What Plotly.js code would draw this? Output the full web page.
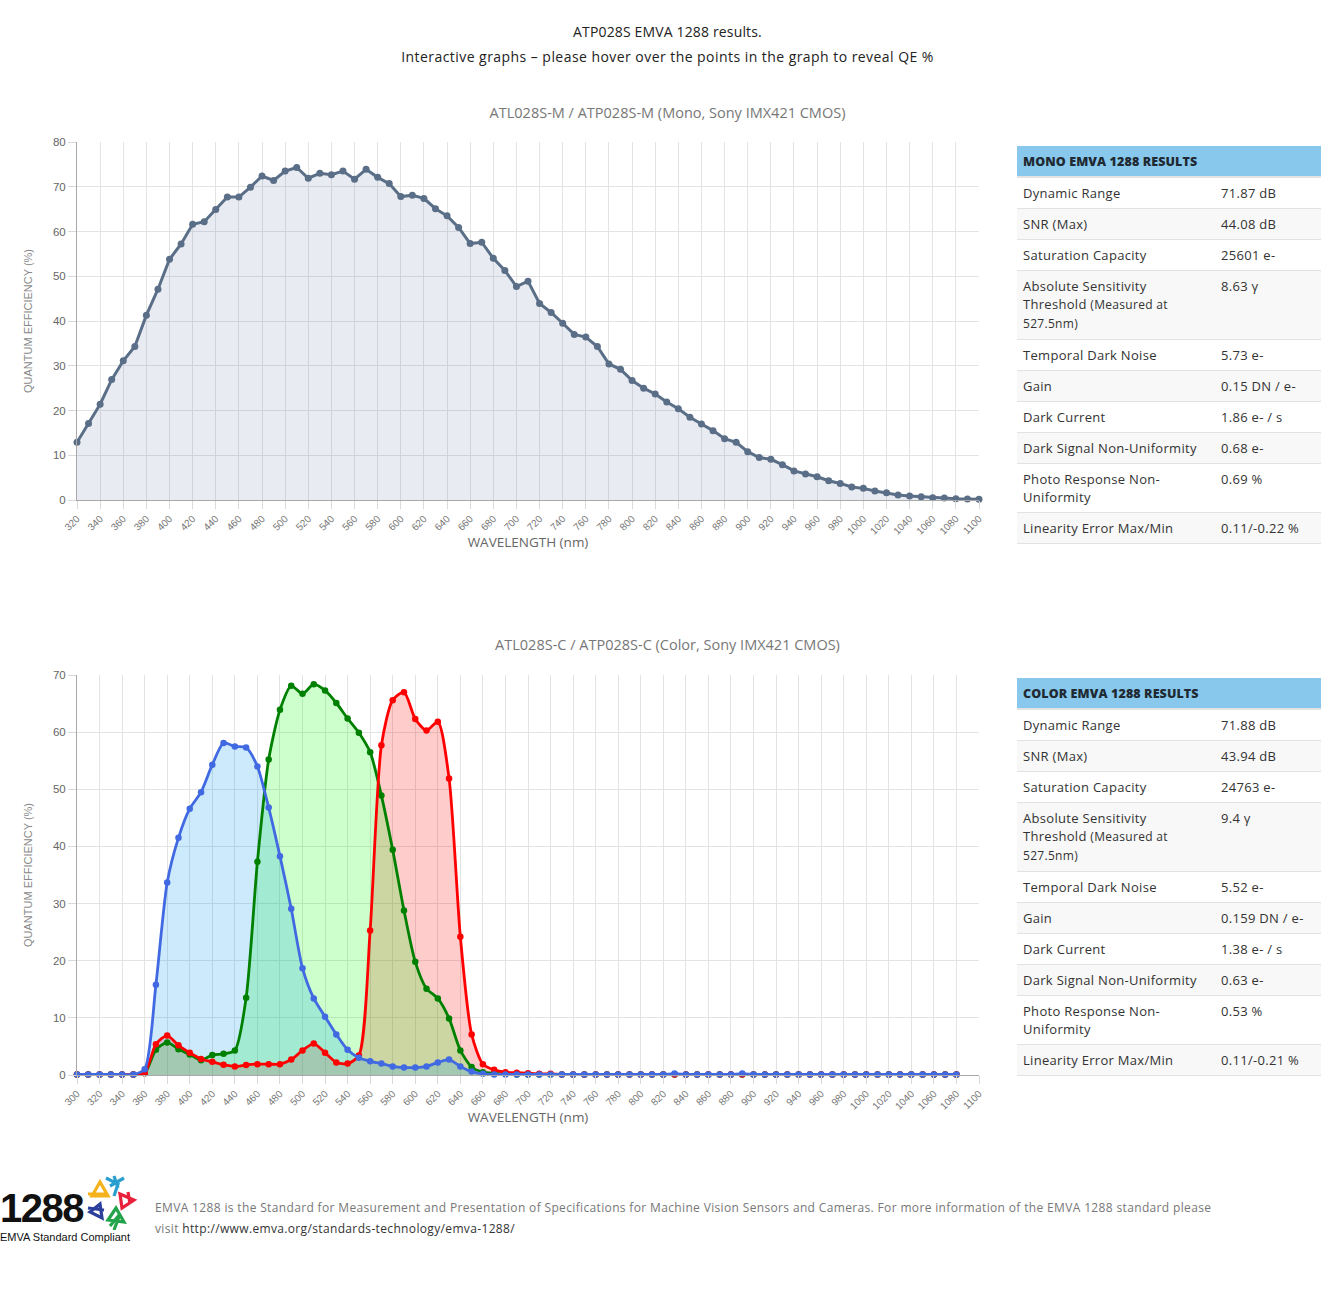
<!DOCTYPE html>
<html>
<head>
<meta charset="utf-8">
<script src="https://cdn.plot.ly/plotly-3.0.1.min.js"></script>
<style>
  html, body { margin:0; padding:0; background:#fff; }
  body { width:1335px; height:1299px; position:relative; overflow:hidden; font-family:"Open Sans", "Noto Sans", sans-serif; }
  .hdr { position:absolute; left:0; width:1335px; text-align:center; color:#222; font-size:14px; }
  .plot { position:absolute; left:0; width:1335px; }
  table.res { position:absolute; left:1017px; width:304px; border-collapse:collapse; table-layout:fixed; font-size:13px; letter-spacing:0.3px; color:#333; z-index:5; background:#fff; }
  table.res th { background:#87c8ec; text-align:left; font-weight:800; color:#1f2a33; padding:0 6px; height:30px; border-bottom:2px solid #e3e3e3; font-size:12.5px; letter-spacing:0.1px; }
  table.res td { padding:6px 6px 6px 6px; line-height:18px; vertical-align:top; border-bottom:1px solid #e2e2e2; white-space:nowrap; }
  table.res tr:nth-child(odd) td { background:#f8f8f8; }
  table.res col.l { width:198px; }
  table.res col.v { width:106px; }
  .small { font-size:12px; }
  .foot { position:absolute; left:155px; font-size:12px; letter-spacing:0.35px; color:#777; white-space:nowrap; }
  .foot a { color:#333; text-decoration:none; }
</style>
</head>
<body>
<div class="hdr" style="top:22px; letter-spacing:0.15px;">ATP028S EMVA 1288 results.</div>
<div class="hdr" style="top:47px; letter-spacing:0.45px;">Interactive graphs – please hover over the points in the graph to reveal QE %</div>

<div id="monoPlot" class="plot" style="top:90px; height:480px;"></div>
<div id="colorPlot" class="plot" style="top:620px; height:520px;"></div>

<table class="res" id="monoTable" style="top:146px;"></table>
<table class="res" id="colorTable" style="top:678px;"></table>

<div style="position:absolute; left:0; top:1188px; font-family:'Liberation Sans', Arial, sans-serif; font-weight:bold; font-size:40px; color:#111; letter-spacing:-1.5px; line-height:40px;">1288</div>
<div style="position:absolute; left:0; top:1231px; font-family:'Liberation Sans', Arial, sans-serif; font-size:11px; color:#111;">EMVA Standard Compliant</div>
<svg style="position:absolute; left:84px; top:1174px;" width="54" height="56" viewBox="0 0 54 56">
  <path d="M8 22 L16 8 L24 22 Z M4 20 L22 20" stroke="#f4b21c" stroke-width="3.2" fill="none"/>
  <path d="M22 4 L34 10 L30 22 M26 12 L40 4 M30 2 L34 14" stroke="#2a9fcf" stroke-width="3.2" fill="none"/>
  <path d="M36 20 L50 26 L38 34 Z M44 18 L46 30" stroke="#e8203a" stroke-width="3.2" fill="none"/>
  <path d="M6 38 L16 30 L18 44 Z M4 34 L20 36" stroke="#2c3f9c" stroke-width="3.2" fill="none"/>
  <path d="M24 46 L32 34 L40 48 Z M26 52 L36 40 L30 56" stroke="#23a34a" stroke-width="3.2" fill="none"/>
</svg>
<div class="foot" style="top:1199px;">EMVA 1288 is the Standard for Measurement and Presentation of Specifications for Machine Vision Sensors and Cameras. For more information of the EMVA 1288 standard please</div>
<div class="foot" style="top:1220px;">visit <a>http://www.emva.org/standards-technology/emva-1288/</a></div>

<script>
// ---------- Data ----------
const monoWavelength = [320,330,340,350,360,370,380,390,400,410,420,430,440,450,460,470,480,490,500,510,520,530,540,550,560,570,580,590,600,610,620,630,640,650,660,670,680,690,700,710,720,730,740,750,760,770,780,790,800,810,820,830,840,850,860,870,880,890,900,910,920,930,940,950,960,970,980,990,1000,1010,1020,1030,1040,1050,1060,1070,1080,1090,1100];
const monoQE = [12.9,17.1,21.4,26.9,31.1,34.3,41.3,47.1,53.8,57.2,61.6,62.2,64.9,67.7,67.7,69.9,72.4,71.4,73.5,74.3,71.9,73.0,72.7,73.5,71.7,73.9,72.1,70.7,67.8,68.1,67.4,65.1,63.5,60.9,57.3,57.6,54.0,51.3,47.7,48.9,43.9,41.9,39.5,37.0,36.4,34.3,30.4,29.2,26.7,25.0,23.7,21.9,20.4,18.5,17.0,15.5,13.7,12.9,10.8,9.5,9.1,7.9,6.5,5.8,5.2,4.3,3.7,2.9,2.6,2.0,1.6,1.1,0.9,0.7,0.5,0.45,0.3,0.2,0.15];

const colorWavelength = [300,310,320,330,340,350,360,370,380,390,400,410,420,430,440,450,460,470,480,490,500,510,520,530,540,550,560,570,580,590,600,610,620,630,640,650,660,670,680,690,700,710,720,730,740,750,760,770,780,790,800,810,820,830,840,850,860,870,880,890,900,910,920,930,940,950,960,970,980,990,1000,1010,1020,1030,1040,1050,1060,1070,1080];
const redQE = [0.1,0.1,0.1,0.1,0.1,0.1,0.3,5.4,6.9,5.2,3.9,2.8,2.3,1.8,1.5,1.75,1.9,1.9,1.9,2.7,4.3,5.5,3.9,2.2,2.0,3.4,25.3,57.7,65.6,67.0,62.3,60.3,61.8,51.9,24.2,7.1,1.9,0.9,0.5,0.4,0.3,0.2,0.2,0.1,0.1,0.1,0.1,0.1,0.1,0.1,0.1,0.1,0.1,0.1,0.1,0.1,0.1,0.1,0.1,0.1,0.1,0.1,0.1,0.1,0.1,0.1,0.1,0.1,0.1,0.1,0.1,0.1,0.1,0.1,0.1,0.1,0.1,0.1,0.1];
const greenQE = [0.1,0.1,0.1,0.1,0.1,0.1,0.3,4.4,5.7,4.5,3.6,2.6,3.5,3.7,4.3,13.5,37.3,55.2,63.9,68.1,66.7,68.4,67.3,65.1,62.4,59.9,56.5,48.9,39.4,28.8,19.8,15.1,13.4,9.9,4.3,1.4,0.5,0.3,0.2,0.1,0.1,0.1,0.1,0.1,0.1,0.1,0.1,0.1,0.1,0.1,0.1,0.1,0.1,0.1,0.1,0.1,0.1,0.1,0.1,0.1,0.1,0.1,0.1,0.1,0.1,0.1,0.1,0.1,0.1,0.1,0.1,0.1,0.1,0.1,0.1,0.1,0.1,0.1,0.1];
const blueQE = [0.1,0.1,0.1,0.1,0.1,0.1,1.0,15.8,33.7,41.5,46.6,49.5,54.3,58.1,57.5,57.3,54.0,46.8,38.3,29.1,18.7,13.4,10.2,7.1,4.4,3.0,2.4,2.0,1.5,1.3,1.3,1.5,2.2,2.7,1.5,0.6,0.2,0.1,0.1,0.1,0.1,0.1,0.1,0.1,0.1,0.1,0.1,0.1,0.1,0.1,0.1,0.1,0.1,0.25,0.1,0.1,0.1,0.1,0.1,0.25,0.1,0.1,0.1,0.1,0.1,0.1,0.1,0.1,0.1,0.1,0.1,0.1,0.1,0.1,0.1,0.1,0.1,0.1,0.1];

const monoTitle = "ATL028S-M / ATP028S-M (Mono, Sony IMX421 CMOS)";
const colorTitle = "ATL028S-C / ATP028S-C (Color, Sony IMX421 CMOS)";

const resultLabels = ["Dynamic Range","SNR (Max)","Saturation Capacity","Absolute Sensitivity<br>Threshold <span class='small'>(Measured at</span><br><span class='small'>527.5nm)</span>","Temporal Dark Noise","Gain","Dark Current","Dark Signal Non-Uniformity","Photo Response Non-<br>Uniformity","Linearity Error Max/Min"];
const monoResults = ["71.87 dB","44.08 dB","25601 e-","8.63 γ","5.73 e-","0.15 DN / e-","1.86 e- / s","0.68 e-","0.69 %","0.11/-0.22 %"];
const colorResults = ["71.88 dB","43.94 dB","24763 e-","9.4 γ","5.52 e-","0.159 DN / e-","1.38 e- / s","0.63 e-","0.53 %","0.11/-0.21 %"];

// ---------- Tables ----------
function buildTable(id, head, values) {
  let h = "<colgroup><col class='l'><col class='v'></colgroup><tr><th colspan='2'>" + head + "</th></tr>";
  for (let i = 0; i < resultLabels.length; i++) {
    h += "<tr><td>" + resultLabels[i] + "</td><td>" + values[i] + "</td></tr>";
  }
  document.getElementById(id).innerHTML = h;
}
buildTable("monoTable", "MONO EMVA 1288 RESULTS", monoResults);
buildTable("colorTable", "COLOR EMVA 1288 RESULTS", colorResults);

// ---------- Plots ----------
const tickFont = {family:"Liberation Sans, Arial, sans-serif", size:10, color:"#777"};
const yTickFont = {family:"Liberation Sans, Arial, sans-serif", size:11.5, color:"#666"};

function axes(xmin, xmax, ymax) {
  return {
    xaxis: {
      range:[xmin, xmax], tick0:xmin, dtick:20, tickangle:-45, tickfont:tickFont,
      ticks:"outside", ticklen:8, tickcolor:"#d9d9d9", showgrid:true, gridcolor:"#e3e3e3", gridwidth:1,
      showline:true, linecolor:"#a8a8a8", linewidth:1, zeroline:false, mirror:false,
      title:{text:"WAVELENGTH (nm)", font:{family:"Open Sans, sans-serif", size:13.5, color:"#666"}, standoff:0}
    },
    yaxis: {
      range:[0, ymax], dtick:10, tickfont:yTickFont,
      ticks:"outside", ticklen:8, tickcolor:"#d9d9d9", showgrid:true, gridcolor:"#e3e3e3", gridwidth:1,
      showline:true, linecolor:"#a8a8a8", linewidth:1, zeroline:false,
      title:{text:"QUANTUM EFFICIENCY (%)", font:{family:"Liberation Sans, Arial, sans-serif", size:11, color:"#888"}, standoff:18}
    }
  };
}

// Mono
const monoAx = axes(320, 1100, 80);
Plotly.newPlot("monoPlot", [{
  x: monoWavelength, y: monoQE, type:"scatter", mode:"lines+markers", name:"Mono QE",
  fill:"tozeroy", fillcolor:"rgba(100,120,170,0.15)",
  line:{color:"#5a6f87", width:3}, marker:{color:"#5a6f87", size:7}, cliponaxis:false
}], Object.assign({
  width:1335, height:480,
  margin:{l:77, r:356, t:52, b:70},
  paper_bgcolor:"rgba(0,0,0,0)", plot_bgcolor:"rgba(0,0,0,0)",
  showlegend:false,
  title:{text:monoTitle, font:{family:"Open Sans, sans-serif", size:14.5, color:"#777"}, x:0.5, xref:"container", xanchor:"center", y:1-23/480, yref:"container", yanchor:"middle"}
}, monoAx), {displayModeBar:false});

// Color
const colorAx = axes(300, 1100, 70);
function fillTrace(yv, fc, nm) {
  return {x:colorWavelength, y:yv, type:"scatter", mode:"lines", fill:"tozeroy", fillcolor:fc,
    line:{width:0, shape:"spline", smoothing:0.7, color:fc}, hoverinfo:"skip", showlegend:false, name:nm};
}
function lineTrace(yv, col, nm) {
  return {x:colorWavelength, y:yv, type:"scatter", mode:"lines+markers", name:nm,
    line:{color:col, width:2.8, shape:"spline", smoothing:0.7}, marker:{color:col, size:6.5}, cliponaxis:false};
}
Plotly.newPlot("colorPlot", [
  fillTrace(redQE, "rgba(255,0,0,0.2)", "Red fill"),
  fillTrace(greenQE, "rgba(0,255,0,0.2)", "Green fill"),
  fillTrace(blueQE, "rgba(0,150,240,0.2)", "Blue fill"),
  lineTrace(greenQE, "#008000", "Green"),
  lineTrace(redQE, "#ff0000", "Red"),
  lineTrace(blueQE, "#4169e1", "Blue")
], Object.assign({
  width:1335, height:520,
  margin:{l:77, r:356, t:55, b:65},
  paper_bgcolor:"rgba(0,0,0,0)", plot_bgcolor:"rgba(0,0,0,0)",
  showlegend:false,
  title:{text:colorTitle, font:{family:"Open Sans, sans-serif", size:14.5, color:"#777"}, x:0.5, xref:"container", xanchor:"center", y:1-25/520, yref:"container", yanchor:"middle"}
}, colorAx), {displayModeBar:false});
</script>
</body>
</html>
